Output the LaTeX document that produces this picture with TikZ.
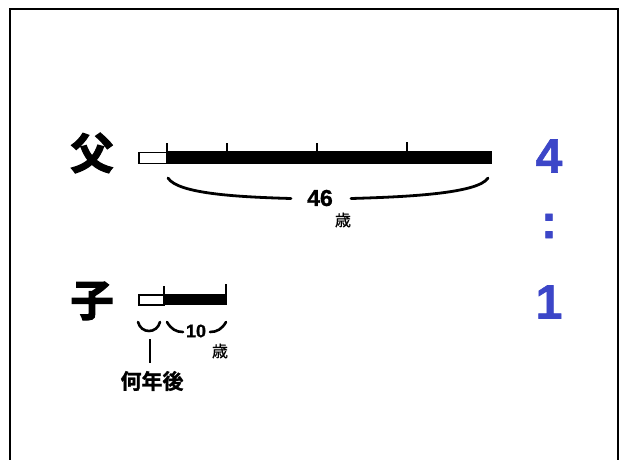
\documentclass[tikz,border=0pt]{standalone}
\usepackage{fontspec}
\setmainfont{Liberation Sans}[BoldFont={Liberation Sans Bold}]
\newfontfamily\numb{Liberation Sans Bold}[FakeBold=1.2]
\newfontfamily\cjk{Noto Sans CJK JP}[FakeBold=0.6]
\newfontfamily\cjkb{Noto Sans CJK JP Bold}[FakeBold=1.2]
\newfontfamily\cjkh{Noto Sans CJK JP Bold}[FakeBold=3]
\definecolor{ratioblue}{RGB}{60,70,200}
\begin{document}
\begin{tikzpicture}[x=1pt,y=-1pt,
  lbl/.style={inner sep=0pt,outer sep=0pt},
  bigcjk/.style={lbl,font=\cjkh\fontsize{43}{43}\selectfont},
  ratio/.style={lbl,font=\numb\fontsize{48}{48}\selectfont,text=ratioblue},
  brace/.style={line width=2.8pt,line cap=round},
  tick/.style={line width=2.2pt},
  whitebar/.style={draw,line width=1.8pt,fill=white},
  blackbar/.style={fill=black}]
\useasboundingbox (0,0) rectangle (620,459);
\fill[white] (0,0) rectangle (620,459);
% frame
\draw[line width=2pt] (10,470) -- (10,9) -- (618,9) -- (618,470);

% labels
\node[bigcjk] (fu) at (92,153) {父};
\node[bigcjk] (ko) at (92,301) {子};
\node[ratio] (four) at (549,156) {4};
\node[ratio] (colon) at (549,226) {:};
\node[ratio] (one) at (549,302) {1};

% father bar
\node[whitebar,minimum width=28pt,minimum height=11pt,inner sep=0pt,anchor=north west] (fw) at (138,151.5) {};
\node[blackbar,minimum width=326pt,minimum height=13pt,inner sep=0pt,anchor=north west] (fb) at (166,151) {};
\coordinate (ft1b) at (167,151); \coordinate (ft1t) at (167,143);
\coordinate (ft2b) at (227,151); \coordinate (ft2t) at (227,143);
\coordinate (ft3b) at (317,151); \coordinate (ft3t) at (317,143);
\coordinate (ft4b) at (407,151); \coordinate (ft4t) at (407,142);
\draw[tick] (ft1b) -- (ft1t);
\draw[tick] (ft2b) -- (ft2t);
\draw[tick] (ft3b) -- (ft3t);
\draw[tick] (ft4b) -- (ft4t);

% father brace
\node[lbl,font=\numb\fontsize{23}{23}\selectfont] (n46) at (320,198) {46};
\node[lbl,font=\cjk\fontsize{16}{16}\selectfont] (sai1) at (343,220) {歳};
\coordinate (fbl) at (168,178);
\coordinate (fbm1) at (291,198.5);
\coordinate (fbm2) at (351,198.5);
\coordinate (fbr) at (488,178);
\draw[brace] (fbl) .. controls (178,194) and (240,197) .. (fbm1);
\draw[brace] (fbm2) .. controls (402,197) and (478,194) .. (fbr);

% son bar
\node[whitebar,minimum width=25pt,minimum height=10pt,inner sep=0pt,anchor=north west] (kw) at (138,294) {};
\node[blackbar,minimum width=64pt,minimum height=11pt,inner sep=0pt,anchor=north west] (kb) at (163,293.5) {};
\coordinate (kt1b) at (164,294); \coordinate (kt1t) at (164,286);
\coordinate (kt2b) at (226,304); \coordinate (kt2t) at (226,284);
\draw[tick] (kt1b) -- (kt1t);
\draw[tick] (kt2b) -- (kt2t);

% son braces
\coordinate (sbl) at (138,322);
\coordinate (sbr) at (160,322);
\draw[brace,line width=2.6pt] (sbl) .. controls (141,334) and (157,334) .. (sbr);
\coordinate (vt) at (150,339);
\coordinate (vb) at (150,363);
\draw[line width=1.4pt] (vt) -- (vb);
\node[lbl,font=\cjkb\fontsize{21}{21}\selectfont] (nannen) at (152,381) {何年後};

\node[lbl,font=\numb\fontsize{18}{18}\selectfont] (n10) at (196,331) {10};
\node[lbl,font=\cjk\fontsize{16}{16}\selectfont] (sai2) at (220,351) {歳};
\coordinate (tbl) at (167,322);
\coordinate (tbm1) at (183,332);
\coordinate (tbm2) at (210,332);
\coordinate (tbr) at (226,322);
\draw[brace,line width=2.6pt] (tbl) .. controls (171,329) and (176,332) .. (tbm1);
\draw[brace,line width=2.6pt] (tbm2) .. controls (217,332) and (222,329) .. (tbr);
\end{tikzpicture}
\end{document}
